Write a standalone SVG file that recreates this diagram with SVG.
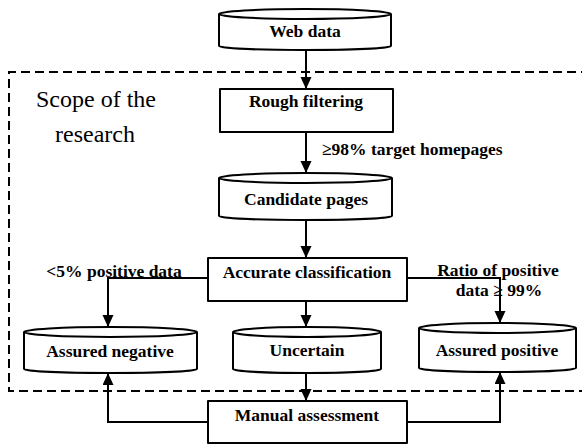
<svg xmlns="http://www.w3.org/2000/svg" width="582" height="444" viewBox="0 0 582 444">
<style>
.shape{fill:#fff;stroke:#000;stroke-width:2;stroke-linejoin:round}
.line{fill:none;stroke:#000;stroke-width:2}
.lbl{font-weight:bold;font-size:17.5px;fill:#000}
.mid{text-anchor:middle}
.scope{font-size:24px;fill:#000;text-anchor:middle}
.dash{fill:none;stroke:#000;stroke-width:2;stroke-dasharray:9 5}
</style>
<defs>
<marker id="arr" markerWidth="12" markerHeight="12" refX="12" refY="5.5" orient="auto" markerUnits="userSpaceOnUse">
<path d="M0,0 L12,5.5 L0,11 z" fill="#000"/>
</marker>
</defs>
<rect width="582" height="444" fill="#fff"/>
<path class="dash" d="M590 72 H9 V391 H590"/>
<g font-family="'Liberation Serif', 'Times New Roman', Times, serif">
<g id="scope">
<text class="scope" x="96" y="107">Scope of the</text>
<text class="scope" x="95" y="142">research</text>
</g>
<g id="web-data">
<path class="shape" d="M219 14 V46 A86 4 0 0 0 391 46 V14 A86 5 0 0 0 219 14 Z"/>
<path class="line" d="M219 14 A86 5 0 0 0 391 14"/>
<text class="lbl mid" x="305" y="37">Web data</text>
</g>
<g id="rough-filtering">
<rect class="shape" x="220" y="89" width="173" height="43"/>
<text class="lbl mid" x="306" y="107">Rough filtering</text>
</g>
<g id="candidate-pages">
<path class="shape" d="M219 178 V216 A86.5 4 0 0 0 392 216 V178 A86.5 5 0 0 0 219 178 Z"/>
<path class="line" d="M219 178 A86.5 5 0 0 0 392 178"/>
<text class="lbl mid" x="306" y="205">Candidate pages</text>
</g>
<g id="accurate-classification">
<rect class="shape" x="208" y="258" width="199" height="43"/>
<text class="lbl mid" x="307" y="278">Accurate classification</text>
</g>
<g id="assured-negative">
<path class="shape" d="M24 332 V369 A86.5 4 0 0 0 197 369 V332 A86.5 5 0 0 0 24 332 Z"/>
<path class="line" d="M24 332 A86.5 5 0 0 0 197 332"/>
<text class="lbl mid" x="110" y="357">Assured negative</text>
</g>
<g id="uncertain">
<path class="shape" d="M233 332 V369 A74 4 0 0 0 381 369 V332 A74 5 0 0 0 233 332 Z"/>
<path class="line" d="M233 332 A74 5 0 0 0 381 332"/>
<text class="lbl mid" x="307" y="356">Uncertain</text>
</g>
<g id="assured-positive">
<path class="shape" d="M419 328 V368 A78.5 4 0 0 0 576 368 V328 A78.5 5 0 0 0 419 328 Z"/>
<path class="line" d="M419 328 A78.5 5 0 0 0 576 328"/>
<text class="lbl mid" x="497" y="356">Assured positive</text>
</g>
<g id="manual-assessment">
<rect class="shape" x="208" y="401" width="199" height="42"/>
<text class="lbl mid" x="307" y="421">Manual assessment</text>
</g>
<g id="connectors">
<path class="line" d="M306 50 V89" marker-end="url(#arr)"/>
<path class="line" d="M306 132 V173" marker-end="url(#arr)"/>
<path class="line" d="M306 220 V258" marker-end="url(#arr)"/>
<path class="line" d="M208 278 H108 V327" marker-end="url(#arr)"/>
<path class="line" d="M306 301 V327" marker-end="url(#arr)"/>
<path class="line" d="M407 278 H500 V323" marker-end="url(#arr)"/>
<path class="line" d="M306 373 V401" marker-end="url(#arr)"/>
<path class="line" d="M208 422 H108 V373" marker-end="url(#arr)"/>
<path class="line" d="M407 422 H500 V372" marker-end="url(#arr)"/>
<text class="lbl" x="322" y="155">≥98% target homepages</text>
<text class="lbl mid" x="114" y="277">&lt;5% positive data</text>
<text class="lbl mid" x="498" y="276">Ratio of positive</text>
<text class="lbl mid" x="499" y="296">data ≥ 99%</text>
</g>
</g>
</svg>
